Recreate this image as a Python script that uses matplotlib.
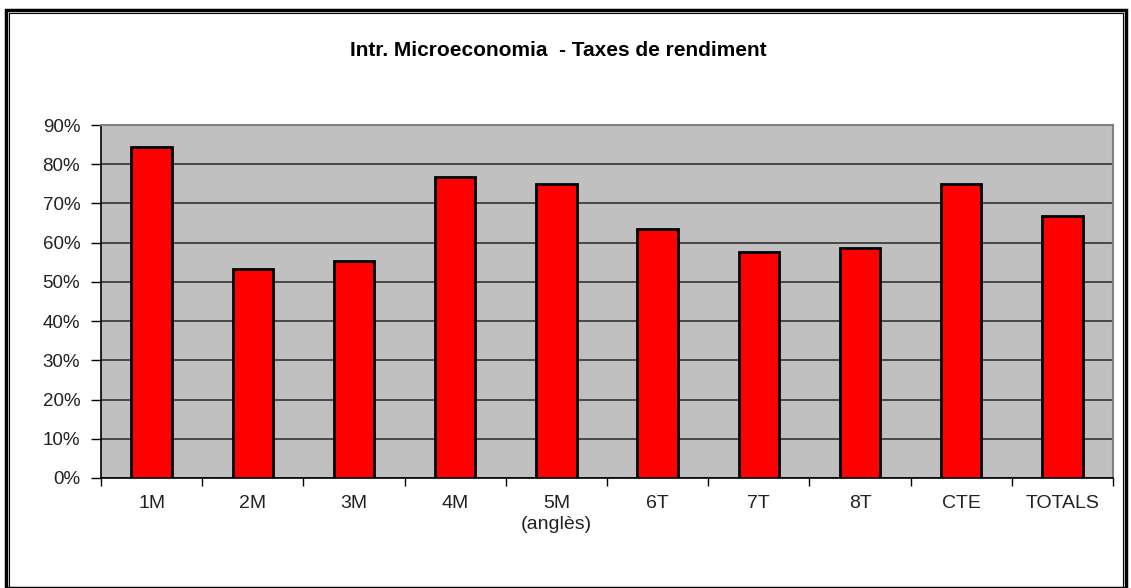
import matplotlib.pyplot as plt
from matplotlib.patches import Rectangle
from matplotlib.ticker import FuncFormatter, FixedLocator
import numpy as np

plt.rcParams['font.family'] = ['Liberation Sans', 'DejaVu Sans']

# data
categories = ['1M', '2M', '3M', '4M', '5M\n(anglès)', '6T', '7T', '8T', 'CTE', 'TOTALS']
rates = [84.4, 53.3, 55.3, 76.8, 75.0, 63.5, 57.6, 58.7, 75.0, 66.7]
y_ticks = [0, 10, 20, 30, 40, 50, 60, 70, 80, 90]

W, H = 1131, 588
fig = plt.figure(figsize=(W / 100, H / 100), dpi=100)
ax = fig.add_axes([101 / W, 1 - 478 / H, (1113 - 101) / W, (478 - 125) / H])

x = np.arange(len(categories))
ax.bar(x, rates, width=0.4, color='#FF0000', edgecolor='black', linewidth=2, zorder=3)

ax.set_facecolor('#C0C0C0')
ax.set_xlim(-0.5, len(categories) - 0.5)
ax.set_ylim(0, 90)
ax.set_yticks(y_ticks)
ax.yaxis.set_major_formatter(FuncFormatter(lambda v, p: f'{v:.0f}%'))
ax.grid(axis='y', color='#333333', linewidth=1.2, zorder=1)

# category labels in the middle, ticks at boundaries
ax.set_xticks(x)
ax.set_xticklabels(categories, fontsize=14, color='#222222', linespacing=1.35)
ax.tick_params(axis='x', length=0, pad=12)
ax.xaxis.set_minor_locator(FixedLocator(np.arange(-0.5, len(categories), 1.0)))
ax.tick_params(axis='x', which='minor', length=6, width=1, color='black')
ax.tick_params(axis='y', length=7, width=1, labelsize=13.5, labelcolor='#222222', pad=8)

ax.spines['left'].set_color('black')
ax.spines['bottom'].set_color('black')
ax.spines['left'].set_linewidth(1.2)
ax.spines['bottom'].set_linewidth(1.2)
ax.spines['top'].set_color('#808080')
ax.spines['right'].set_color('#808080')
ax.spines['top'].set_linewidth(1.5)
ax.spines['right'].set_linewidth(1.5)

fig.text(558 / W, 1 - 50 / H, 'Intr. Microeconomia  - Taxes de rendiment',
         ha='center', va='center', fontsize=15, fontweight='bold')

# outer frame of the chart
fig.patches.append(Rectangle((6 / W, 0), (1126 - 6) / W, 1 - 10 / H,
                             transform=fig.transFigure, fill=False,
                             edgecolor='black', linewidth=2.5))
fig.patches.append(Rectangle((9 / W, 0), (1123 - 9) / W, 1 - 13 / H,
                             transform=fig.transFigure, fill=False,
                             edgecolor='black', linewidth=0.8))

fig.savefig('out.png', dpi=100)
